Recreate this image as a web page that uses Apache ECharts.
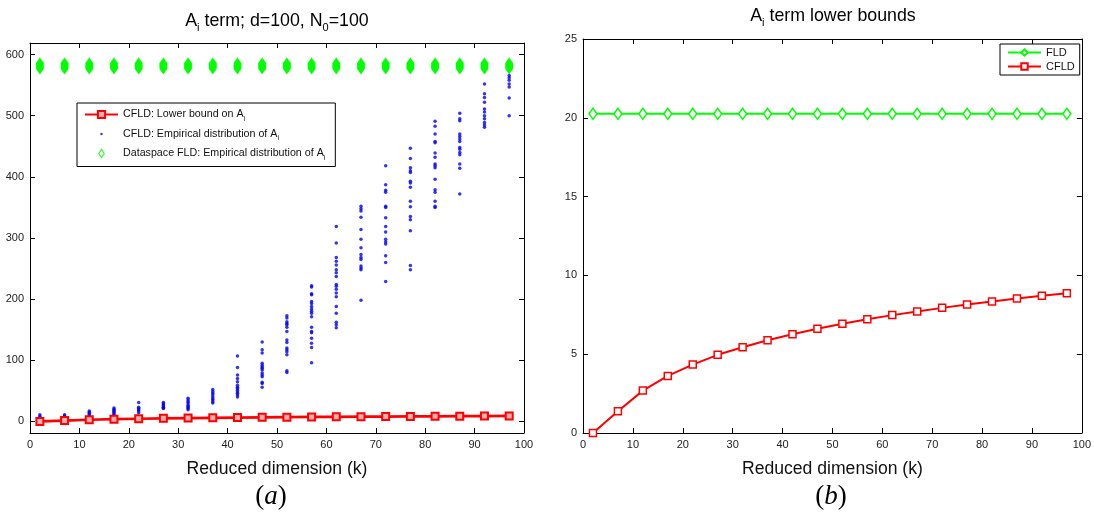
<!DOCTYPE html>
<html>
<head>
<meta charset="utf-8">
<script src="https://cdn.jsdelivr.net/npm/echarts@6/dist/echarts.min.js"></script>
<style>
  html, body { margin: 0; padding: 0; background: #fff; }
  #main { width: 1094px; height: 517px; }
</style>
</head>
<body>
<div id="main"></div>
<script>
// reduced dimension k
var ks = [2, 7, 12, 17, 22, 27, 32, 37, 42, 47, 52, 57, 62, 67, 72, 77, 82, 87, 92, 97];

// lower bounds (panel b, and red line in panel a)
var cfldBound = [0, 1.38, 2.69, 3.62, 4.34, 4.96, 5.44, 5.89, 6.27, 6.61, 6.93, 7.22, 7.48, 7.71, 7.94, 8.16, 8.35, 8.54, 8.71, 8.86];
var fldBound = [20.25, 20.25, 20.25, 20.25, 20.25, 20.25, 20.25, 20.25, 20.25, 20.25,
                20.25, 20.25, 20.25, 20.25, 20.25, 20.25, 20.25, 20.25, 20.25, 20.25];

// CFLD empirical A_i, one list per k
var cfldEmp = [
  [11, 8, 6, 4, 3, 2, 1, 0],
  [11, 9, 8, 6, 5],
  [17, 15, 13, 11, 9, 7, 5],
  [22, 20, 18, 16, 14, 12, 11],
  [31, 23, 21, 19, 17, 14],
  [31, 29, 27, 25, 23, 22, 21],
  [38, 35, 32, 30, 27, 25, 23, 21, 19],
  [52, 49, 46, 43, 40, 37, 35, 32, 30],
  [107, 88, 76, 70, 65, 59, 56, 54, 51, 48, 46, 43, 40],
  [130, 117, 112, 95, 92, 89, 87, 84, 79, 76, 73, 64, 62, 56],
  [173, 169, 163, 160, 158, 154, 147, 133, 129, 120, 117, 114, 109, 83, 80],
  [222, 220, 209, 207, 196, 193, 188, 184, 180, 177, 171, 154, 147, 145, 136, 128, 121, 96],
  [319, 292, 268, 262, 256, 248, 243, 237, 224, 221, 216, 210, 204, 188, 177, 162, 158, 153],
  [352, 348, 344, 334, 314, 298, 284, 273, 268, 265, 254, 251, 248, 198],
  [418, 387, 378, 375, 352, 350, 333, 319, 310, 298, 294, 290, 271, 260, 229],
  [447, 430, 415, 410, 407, 393, 390, 383, 360, 351, 335, 330, 312, 255, 248],
  [491, 483, 470, 458, 456, 439, 432, 421, 418, 415, 396, 379, 375, 360, 352, 350],
  [504, 495, 492, 470, 466, 462, 458, 448, 445, 440, 436, 421, 414, 372],
  [552, 536, 530, 522, 511, 506, 500, 495, 489, 485, 481],
  [566, 562, 558, 552, 547, 529, 500]
];

// dataspace FLD empirical A_i (same spread at every k)
var fldEmp = [577, 578.5, 580, 581.5, 583, 584.5, 586];

var leftTicks = [0, 100, 200, 300, 400, 500, 600];

var FONT = 'Liberation Sans, Arial, sans-serif';

var cfldLine = ks.map(function (k, i) { return [k, cfldBound[i]]; });
var fldLine = ks.map(function (k, i) { return [k, fldBound[i]]; });
var blueDots = [];
ks.forEach(function (k, i) {
    cfldEmp[i].forEach(function (v) { blueDots.push([k, v]); });
});
var greenDots = [];
ks.forEach(function (k) {
    fldEmp.forEach(function (v) { greenDots.push([k, v]); });
});

var subRich = {
    a: { fontFamily: FONT, fontSize: 10.7, color: '#111' },
    s: { fontFamily: FONT, fontSize: 7, color: '#111', padding: [9, 0, 0, 0] }
};

function xAx(grid, pos) {
    return {
        gridIndex: grid, type: 'value', position: pos, min: 0, max: 100, interval: 10,
        axisLine: { onZero: false, lineStyle: { color: '#000', width: 1 } },
        axisTick: { inside: true, length: 5, lineStyle: { color: '#000' } },
        axisLabel: { show: pos === 'bottom', color: '#222', fontFamily: FONT, fontSize: 11, margin: 6 },
        splitLine: { show: false },
        name: pos === 'bottom' ? 'Reduced dimension (k)' : '',
        nameLocation: 'middle', nameGap: 27,
        nameTextStyle: { fontFamily: FONT, fontSize: 17.6, color: '#111' }
    };
}

function titleText(x, y, txt) {
    return { type: 'text', x: x, y: y, style: {
        text: txt, align: 'center', verticalAlign: 'middle',
        rich: {
            a: { fontFamily: FONT, fontSize: 17.8, color: '#111' },
            s: { fontFamily: FONT, fontSize: 11, color: '#111', padding: [14, 0, 0, 0] }
        } } };
}

function panelTag(x, y, letter) {
    return { type: 'text', x: x, y: y, style: {
        text: '{p|(}{i|' + letter + '}{p|)}', align: 'center', verticalAlign: 'middle',
        rich: {
            p: { fontFamily: 'Liberation Serif, DejaVu Serif, serif', fontSize: 27, color: '#111' },
            i: { fontFamily: 'Liberation Serif, DejaVu Serif, serif', fontStyle: 'italic', fontSize: 27, color: '#111' }
        } } };
}

var option = {
    animation: false,
    backgroundColor: '#fff',
    graphic: [
        titleText(277, 21, '{a|A}{s|i}{a| term; d=100, N}{s|0}{a|=100}'),
        titleText(833, 16, '{a|A}{s|i}{a| term lower bounds}'),
        panelTag(271, 497, 'a'),
        panelTag(831, 497, 'b')
    ],
    legend: [
        {
            left: 77, top: 103, orient: 'vertical', itemGap: 6, itemWidth: 33, itemHeight: 9,
            borderColor: '#000', borderWidth: 1, padding: [6, 10, 5, 7], backgroundColor: '#fff',
            textStyle: { rich: subRich },
            formatter: function (name) {
                return name.replace(/A_i$/, '{a|A}{s|i}').replace(/^([^{]+)/, '{a|$1}');
            },
            data: [
                { name: 'CFLD: Lower bound on A_i' },
                { name: 'CFLD: Empirical distribution of A_i',
                  icon: 'path://M0,0M10,10M3.8,3.8h2.4v2.4h-2.4z', itemStyle: { color: '#0000ff' } },
                { name: 'Dataspace FLD: Empirical distribution of A_i',
                  icon: 'path://M0,0M10,10M5,0.5L8,5L5,9.5L2,5Z',
                  itemStyle: { color: '#fff', borderColor: '#00ff00', borderWidth: 1.2 } }
            ]
        },
        {
            left: 1000, top: 44, orient: 'vertical', itemGap: 3, itemWidth: 33, itemHeight: 8,
            borderColor: '#000', borderWidth: 1, padding: [3, 5, 3, 7], backgroundColor: '#fff',
            textStyle: { fontFamily: FONT, fontSize: 11, color: '#111' },
            data: ['FLD', 'CFLD']
        }
    ],
    grid: [
        { left: 30, right: 570, top: 43, bottom: 84 },
        { left: 583, right: 12, top: 39, bottom: 84 }
    ],
    xAxis: [xAx(0, 'bottom'), xAx(0, 'top'), xAx(1, 'bottom'), xAx(1, 'top')],
    yAxis: [
        { gridIndex: 0, type: 'value', position: 'left', min: -19, max: 619,
          axisLine: { onZero: false, lineStyle: { color: '#000' } },
          axisTick: { inside: true, length: 5, customValues: leftTicks, lineStyle: { color: '#000' } },
          axisLabel: { customValues: leftTicks, color: '#222', fontFamily: FONT, fontSize: 11, margin: 6 },
          splitLine: { show: false } },
        { gridIndex: 0, type: 'value', position: 'right', min: -19, max: 619,
          axisLine: { onZero: false, lineStyle: { color: '#000' } },
          axisTick: { inside: true, length: 5, customValues: leftTicks, lineStyle: { color: '#000' } },
          axisLabel: { show: false }, splitLine: { show: false } },
        { gridIndex: 1, type: 'value', position: 'left', min: 0, max: 25, interval: 5,
          axisLine: { onZero: false, lineStyle: { color: '#000' } },
          axisTick: { inside: true, length: 5, lineStyle: { color: '#000' } },
          axisLabel: { color: '#222', fontFamily: FONT, fontSize: 11, margin: 6 },
          splitLine: { show: false } },
        { gridIndex: 1, type: 'value', position: 'right', min: 0, max: 25, interval: 5,
          axisLine: { onZero: false, lineStyle: { color: '#000' } },
          axisTick: { inside: true, length: 5, lineStyle: { color: '#000' } },
          axisLabel: { show: false }, splitLine: { show: false } }
    ],
    series: [
        { name: 'Dataspace FLD: Empirical distribution of A_i', type: 'scatter', xAxisIndex: 0, yAxisIndex: 0,
          data: greenDots, symbol: 'diamond', symbolSize: [7, 10],
          itemStyle: { color: '#00ff00', borderColor: '#00ff00', borderWidth: 1 } },
        { name: 'CFLD: Empirical distribution of A_i', type: 'scatter', xAxisIndex: 0, yAxisIndex: 0,
          data: blueDots, symbol: 'circle', symbolSize: 3.5,
          itemStyle: { color: '#0000ff' } },
        { name: 'CFLD: Lower bound on A_i', type: 'line', xAxisIndex: 0, yAxisIndex: 0,
          data: cfldLine, symbol: 'rect', symbolSize: 7, showAllSymbol: true,
          lineStyle: { color: '#ff0000', width: 2.7 },
          itemStyle: { color: '#ffb0b0', borderColor: '#ff0000', borderWidth: 2 } },
        { name: 'FLD', type: 'line', xAxisIndex: 2, yAxisIndex: 2,
          data: fldLine, symbol: 'diamond', symbolSize: [8, 11], showAllSymbol: true,
          lineStyle: { color: '#00ff00', width: 2 },
          itemStyle: { color: '#fff', borderColor: '#00ff00', borderWidth: 1.5 } },
        { name: 'CFLD', type: 'line', xAxisIndex: 2, yAxisIndex: 2,
          data: cfldLine, symbol: 'rect', symbolSize: 7, showAllSymbol: true,
          lineStyle: { color: '#ff0000', width: 2 },
          itemStyle: { color: '#fff', borderColor: '#ff0000', borderWidth: 1.5 } }
    ]
};

var chart = echarts.init(document.getElementById('main'));
chart.setOption(option);
</script>
</body>
</html>
